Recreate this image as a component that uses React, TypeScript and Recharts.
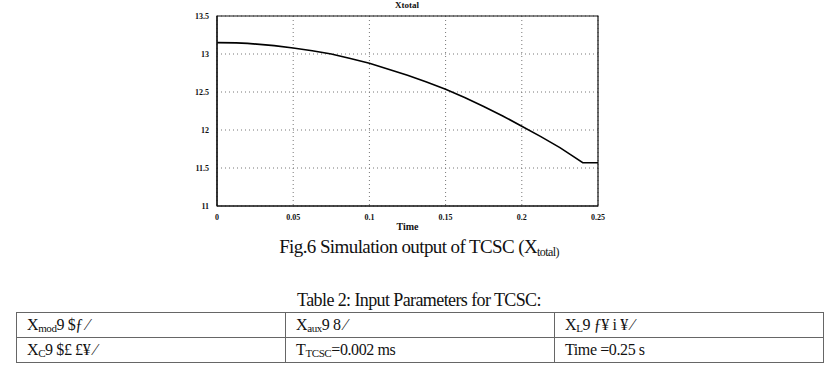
import React from "react";
import {
  LineChart,
  Line,
  XAxis,
  YAxis,
  CartesianGrid,
  ReferenceArea,
} from "recharts";

// simulation output
const timeValues = [
  0, 0.0125, 0.02, 0.0375, 0.05, 0.0625, 0.075, 0.0875, 0.1, 0.1125, 0.125, 0.1375,
  0.15, 0.1625, 0.175, 0.1875, 0.2, 0.2125, 0.225, 0.2325, 0.24, 0.25,
];
const xtotalValues = [
  13.15, 13.146, 13.14, 13.11, 13.08, 13.043, 13.0, 12.94, 12.878, 12.8, 12.72, 12.632,
  12.535, 12.428, 12.31, 12.185, 12.05, 11.913, 11.768, 11.67, 11.57, 11.57,
];

const xTicks = [0, 0.05, 0.1, 0.15, 0.2, 0.25];
const yTicks = [11, 11.5, 12, 12.5, 13, 13.5];

const serif = '"Liberation Serif", "DejaVu Serif", serif';

const data = timeValues.map((t, i) => ({ t, x: xtotalValues[i] }));

const tickStyle = { fontSize: 8, fontFamily: serif, fontWeight: 700, fill: "#111" };

function Cell({ main, sub, rest }: { main: string; sub?: string; rest: string }) {
  return (
    <td
      style={{
        border: "1.5px solid #666",
        padding: "0 0 0 10px",
        height: 24,
        width: "33.33%",
        fontSize: 16,
        whiteSpace: "nowrap",
      }}
    >
      {main}
      {sub && <sub style={{ fontSize: 11, verticalAlign: -2 }}>{sub}</sub>}
      {rest}
    </td>
  );
}

export default function App() {
  return (
    <div
      style={{
        position: "absolute",
        left: 0,
        top: 0,
        width: 838,
        height: 372,
        background: "#fff",
        fontFamily: serif,
        color: "#111",
        overflow: "hidden",
      }}
    >
      <div
        style={{
          position: "absolute",
          left: 307,
          width: 200,
          top: 0,
          textAlign: "center",
          fontSize: 9,
          fontWeight: 700,
        }}
      >
        Xtotal
      </div>

      <div style={{ position: "absolute", left: 0, top: 0 }}>
        <LineChart
          width={838}
          height={240}
          data={data}
          margin={{ top: 16, right: 240, left: 187, bottom: 8 }}
        >
          <CartesianGrid
            stroke="#777"
            strokeDasharray="1 3"
            horizontalValues={yTicks}
            verticalValues={xTicks}
          />
          <XAxis
            dataKey="t"
            type="number"
            domain={[0, 0.25]}
            ticks={xTicks}
            height={26}
            tick={tickStyle}
            tickLine={false}
            tickMargin={2}
            axisLine={{ stroke: "#111", strokeWidth: 1.2 }}
            label={{
              value: "Time",
              position: "insideBottom",
              offset: 2,
              style: { fontSize: 10, fontFamily: serif, fontWeight: 700, fill: "#111" },
            }}
          />
          <YAxis
            type="number"
            domain={[11, 13.5]}
            ticks={yTicks}
            width={30}
            tick={tickStyle}
            tickLine={false}
            tickMargin={2}
            axisLine={{ stroke: "#111", strokeWidth: 1.2 }}
          />
          <ReferenceArea
            x1={0}
            x2={0.25}
            y1={11}
            y2={13.5}
            fill="none"
            stroke="#111"
            strokeWidth={1.2}
            ifOverflow="visible"
          />
          <Line
            type="linear"
            dataKey="x"
            stroke="#000"
            strokeWidth={1.6}
            dot={false}
            isAnimationActive={false}
          />
        </LineChart>
      </div>

      <div
        style={{
          position: "absolute",
          left: 0,
          width: 838,
          top: 236,
          textAlign: "center",
          fontSize: 19,
          letterSpacing: -0.6,
        }}
      >
        Fig.6 Simulation output of TCSC (X
        <sub style={{ fontSize: 12, verticalAlign: -3 }}>total)</sub>
      </div>

      <div
        style={{
          position: "absolute",
          left: 0,
          width: 838,
          top: 290,
          textAlign: "center",
          fontSize: 18,
          letterSpacing: -0.6,
        }}
      >
        Table 2: Input Parameters for TCSC:
      </div>

      <table
        style={{
          position: "absolute",
          left: 16,
          top: 312,
          width: 808,
          borderCollapse: "collapse",
          tableLayout: "fixed",
          letterSpacing: -0.4,
        }}
      >
        <tbody>
          <tr>
            <Cell main="X" sub="mod" rest="9 $ƒ ⁄" />
            <Cell main="X" sub="aux" rest="9 8 ⁄" />
            <Cell main="X" sub="L" rest="9 ƒ¥ i ¥ ⁄" />
          </tr>
          <tr>
            <Cell main="X" sub="C" rest="9 $£ £¥ ⁄" />
            <Cell main="T" sub="TCSC" rest="=0.002 ms" />
            <Cell main="Time  =0.25 s" rest="" />
          </tr>
        </tbody>
      </table>
    </div>
  );
}
